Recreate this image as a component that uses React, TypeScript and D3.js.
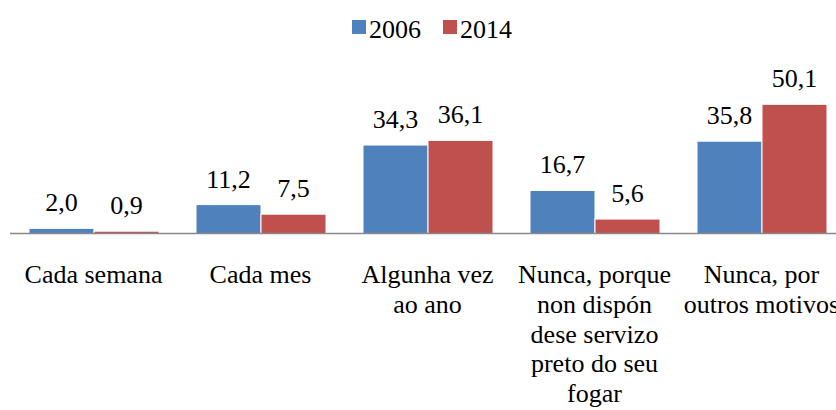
import React from "react";
import * as d3 from "d3";

// categories (each one split into its label lines)
const categories = [
	"Cada semana",
	"Cada mes",
	"Algunha vez ao ano",
	"Nunca, porque non dispón dese servizo preto do seu fogar",
	"Nunca, por outros motivos",
];
const categoryLines = [
	["Cada semana"],
	["Cada mes"],
	["Algunha vez", "ao ano"],
	["Nunca, porque", "non dispón", "dese servizo", "preto do seu", "fogar"],
	["Nunca, por", "outros motivos"],
];
const seriesNames = ["2006", "2014"];
const values2006 = [2.0, 11.2, 34.3, 16.7, 35.8];
const values2014 = [0.9, 7.5, 36.1, 5.6, 50.1];

const colors = ["#4F81BD", "#C0504D"];
const width = 836;
const height = 410;
const baseline = 233.5;
const textStyle = { fontFamily: "Liberation Serif" };

const fmt = d3
	.formatLocale({ decimal: ",", thousands: ".", grouping: [3], currency: ["", ""] })
	.format(".1f");

const App = () => {
	const series = [values2006, values2014];

	// outer band: one per category, runs past the right edge like the original
	const x0 = d3.scaleBand<string>().domain(categories).range([10, 845]).padding(0);
	const x1 = d3.scaleBand<string>().domain(seriesNames).range([19, 149]).padding(0);
	const y = d3.scaleLinear().domain([0, 50.1]).range([baseline, 104.3]);

	return (
		<svg width={width} height={height} style={{ position: "absolute", left: 0, top: 0 }}>
			{/* legend */}
			<rect x={352} y={20} width={14} height={14} fill={colors[0]} />
			<text x={369} y={38} fontSize={26} style={textStyle}>
				{seriesNames[0]}
			</text>
			<rect x={443} y={20} width={14} height={14} fill={colors[1]} />
			<text x={460} y={38} fontSize={26} style={textStyle}>
				{seriesNames[1]}
			</text>

			{/* bars */}
			{categories.map((c, i) => (
				<g key={c} transform={`translate(${x0(c)},0)`}>
					{seriesNames.map((s, j) => {
						const v = series[j][i];
						const bx = x1(s) as number;
						const bw = x1.bandwidth();
						return (
							<g key={s}>
								<rect
									x={bx}
									y={y(v)}
									width={bw}
									height={baseline - y(v)}
									fill={colors[j]}
									stroke="#fff"
									strokeWidth={1}
								/>
								<text
									x={bx + bw / 2}
									y={y(v) - 17}
									textAnchor="middle"
									fontSize={26}
									style={textStyle}
								>
									{fmt(v)}
								</text>
							</g>
						);
					})}
				</g>
			))}

			{/* category axis */}
			<line x1={10} x2={width} y1={baseline} y2={baseline} stroke="#898989" strokeWidth={1.5} />
			{categories.map((c, i) => {
				const cx = (x0(c) as number) + x0.bandwidth() / 2;
				return (
					<text key={c} x={cx} y={283} textAnchor="middle" fontSize={26} style={textStyle}>
						{categoryLines[i].map((l, k) => (
							<tspan key={k} x={cx} dy={k === 0 ? 0 : 29.8}>
								{l}
							</tspan>
						))}
					</text>
				);
			})}
		</svg>
	);
};

export default App;
